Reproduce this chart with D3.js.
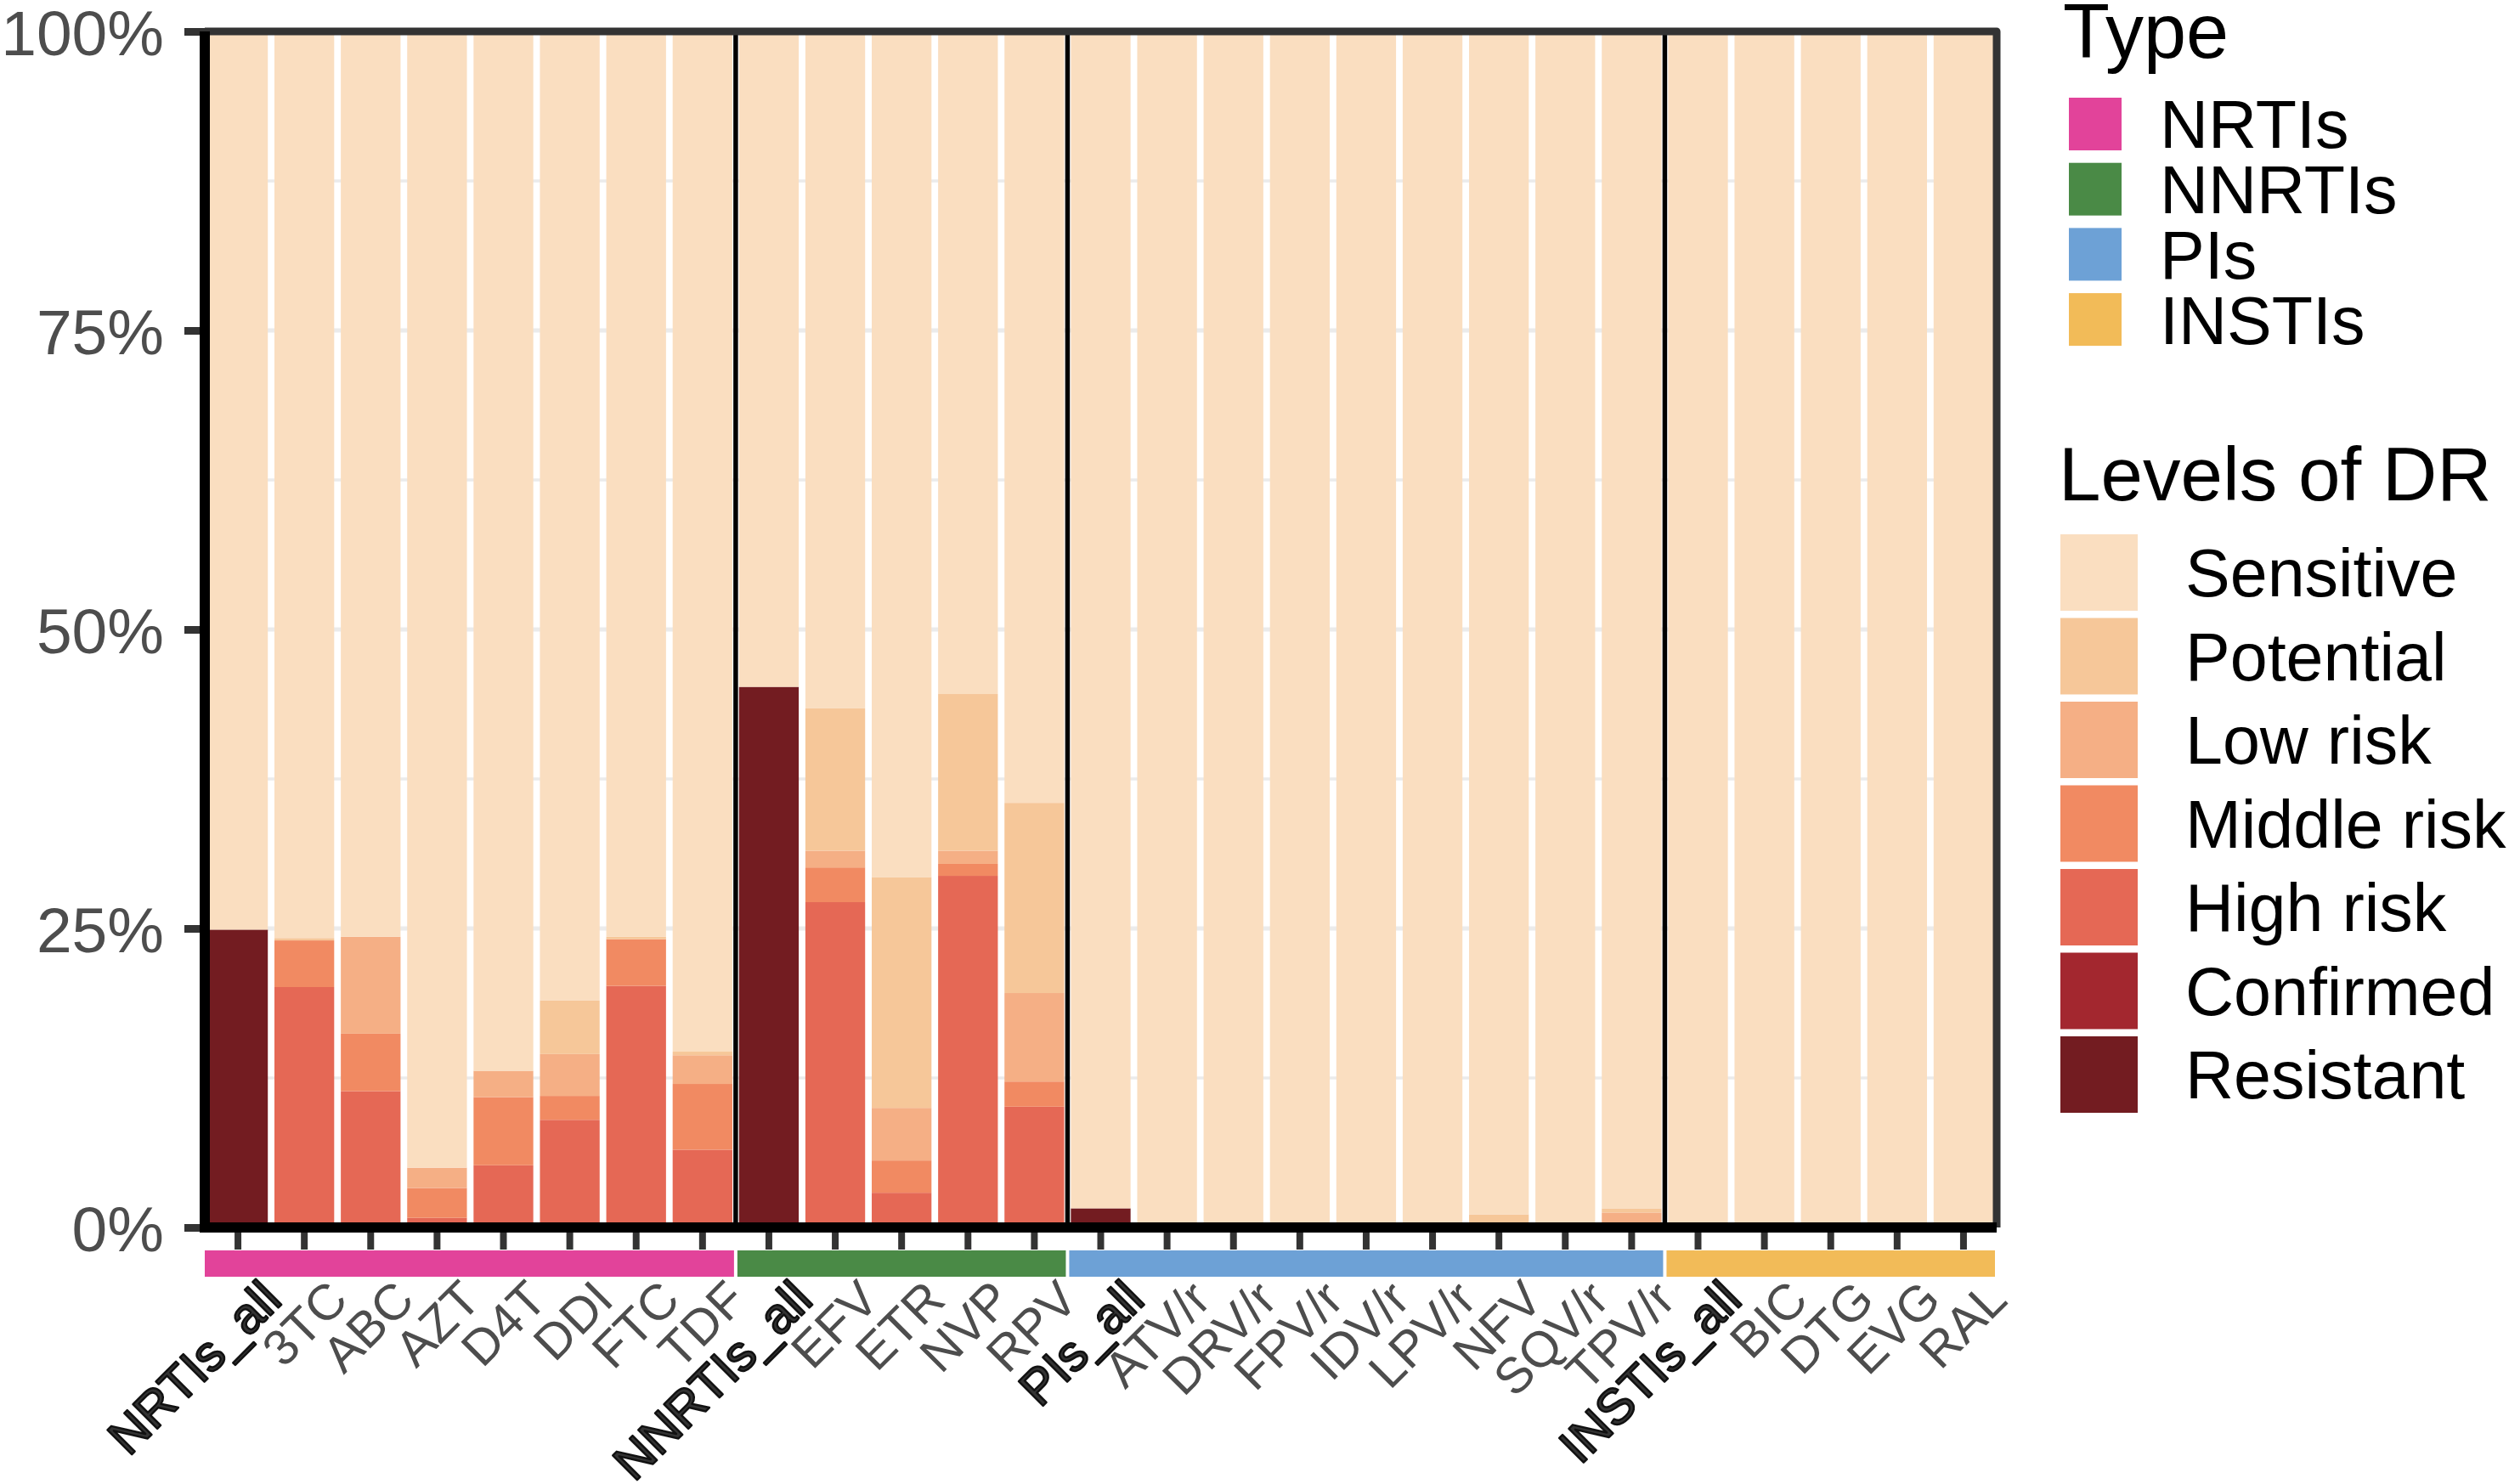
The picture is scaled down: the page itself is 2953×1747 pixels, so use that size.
<!DOCTYPE html>
<html>
<head>
<meta charset="utf-8">
<script src="https://cdn.jsdelivr.net/npm/d3@7"></script>
<style>
  body { margin: 0; background: #fff; }
  text { font-family: "Liberation Sans", Arial, sans-serif; }
</style>
</head>
<body>
<div id="chart"></div>
<script>
// drugs, in plotting order, and their drug class
var drugs = ["NRTIs_all","3TC","ABC","AZT","D4T","DDI","FTC","TDF",
             "NNRTIs_all","EFV","ETR","NVP","RPV",
             "PIs_all","ATV/r","DRV/r","FPV/r","IDV/r","LPV/r","NFV","SQV/r","TPV/r",
             "INSTIs_all","BIC","DTG","EVG","RAL"];
var drugType = ["NRTIs","NRTIs","NRTIs","NRTIs","NRTIs","NRTIs","NRTIs","NRTIs",
                "NNRTIs","NNRTIs","NNRTIs","NNRTIs","NNRTIs",
                "PIs","PIs","PIs","PIs","PIs","PIs","PIs","PIs","PIs",
                "INSTIs","INSTIs","INSTIs","INSTIs","INSTIs"];
var types = ["NRTIs","NNRTIs","PIs","INSTIs"];
var typeColors = ["#E2439A","#4A8A46","#6DA1D6","#F2BB58"];

// levels of drug resistance, legend order (top of stack first)
var levels = ["Sensitive","Potential","Low risk","Middle risk","High risk","Confirmed","Resistant"];
var levelColors = ["#FADEC0","#F6C799","#F5AF85","#F18A62","#E56855","#A3272F","#731C21"];

// percentages per drug
var resistant  = [24.9,0,0,0,0,0,0,0, 45.2,0,0,0,0, 1.6,0,0,0,0,0,0,0,0, 0,0,0,0,0];
var confirmed  = [0,0,0,0,0,0,0,0, 0,0,0,0,0, 0,0,0,0,0,0,0,0,0, 0,0,0,0,0];
var highRisk   = [0,20.1,11.4,0.8,5.2,9.0,20.2,6.5, 0,27.2,2.9,29.4,10.1, 0,0,0,0,0,0,0,0,0, 0,0,0,0,0];
var middleRisk = [0,3.9,4.8,2.5,5.7,2.0,3.9,5.5, 0,2.9,2.7,1.0,2.1, 0,0,0,0,0,0,0,0,0, 0,0,0,0,0];
var lowRisk    = [0,0,8.1,1.7,2.2,3.5,0,2.4, 0,1.4,4.4,1.1,7.4, 0,0,0,0,0,0,0,0,1.25, 0,0,0,0,0];
var potential  = [0,0.2,0,0,0,4.5,0.2,0.3, 0,11.9,19.3,13.1,15.9, 0,0,0,0.4,0,0,1.1,0,0.35, 0,0,0,0,0];
var sensitive  = [75.1,75.8,75.7,95.0,86.9,81.0,75.7,85.3, 54.8,56.6,70.7,55.4,64.5, 98.4,100,100,99.6,100,100,98.9,100,98.4, 100,100,100,100,100];

var yTicks = [0, 25, 50, 75, 100];
var yTickLabels = ["0%","25%","50%","75%","100%"];

var W = 2953, H = 1747;
var margin = {left: 241, right: 603, top: 37, bottom: 302};
var plotW = W - margin.left - margin.right,
    plotH = H - margin.top - margin.bottom;

var svg = d3.select("#chart").append("svg")
    .attr("width", W).attr("height", H)
    .style("display", "block");

var g = svg.append("g")
    .attr("transform", "translate(" + margin.left + "," + margin.top + ")");

var x = d3.scaleBand().domain(drugs).range([0, plotW])
    .paddingInner(0.1).paddingOuter(0.05);
var y = d3.scaleLinear().domain([0, 100]).range([plotH, 0]);

// build table for the stack
var table = drugs.map(function(d, i) {
    return {drug: d, type: drugType[i],
        "Resistant": resistant[i], "Confirmed": confirmed[i], "High risk": highRisk[i],
        "Middle risk": middleRisk[i], "Low risk": lowRisk[i], "Potential": potential[i],
        "Sensitive": sensitive[i]};
});
var stackKeys = levels.slice().reverse();
var series = d3.stack().keys(stackKeys)(table);
var fill = d3.scaleOrdinal().domain(levels).range(levelColors);
var typeFill = d3.scaleOrdinal().domain(types).range(typeColors);

// grid lines
var grid = d3.range(0, 100.1, 12.5);
g.selectAll(".grid").data(grid).enter().append("line")
    .attr("x1", 0).attr("x2", plotW)
    .attr("y1", function(d) { return y(d); }).attr("y2", function(d) { return y(d); })
    .attr("stroke", "#EBEBEB")
    .attr("stroke-width", function(d) { return d % 25 === 0 ? 5 : 3.5; });

// stacked bars
g.selectAll(".layer").data(series).enter().append("g")
    .attr("fill", function(d) { return fill(d.key); })
  .selectAll("rect").data(function(d) { return d; }).enter().append("rect")
    .attr("x", function(d) { return x(d.data.drug); })
    .attr("width", x.bandwidth())
    .attr("y", function(d) { return y(d[1]); })
    .attr("height", function(d) { return Math.max(0, y(d[0]) - y(d[1])); });

// group dividers
var step = x.step();
var bounds = [];
types.forEach(function(t) {
    var idx = drugType.map(function(v, i) { return v === t ? i : -1; }).filter(function(i) { return i >= 0; });
    bounds.push({type: t, x0: idx[0] * step, x1: (idx[idx.length - 1] + 1) * step});
});
g.selectAll(".divider").data(bounds.slice(1)).enter().append("line")
    .attr("x1", function(d) { return d.x0; }).attr("x2", function(d) { return d.x0; })
    .attr("y1", 0).attr("y2", plotH)
    .attr("stroke", "#000").attr("stroke-width", 5.5);

// panel border top/right
g.append("path")
    .attr("d", "M0,0H" + plotW + "V" + plotH)
    .attr("fill", "none").attr("stroke", "#333").attr("stroke-width", 9)
    .attr("stroke-linejoin", "round");

// y axis
var yAxis = g.append("g")
    .call(d3.axisLeft(y).tickValues(yTicks).tickSize(24).tickPadding(24)
        .tickFormat(function(d, i) { return yTickLabels[i]; }));
yAxis.select(".domain").remove();
yAxis.selectAll(".tick line").attr("stroke", "#333").attr("stroke-width", 9);
yAxis.selectAll(".tick text").attr("fill", "#4D4D4D").style("font-size", "75px")
    .attr("dy", "0.36em");

// x axis
var xAxis = g.append("g")
    .attr("transform", "translate(0," + plotH + ")")
    .call(d3.axisBottom(x).tickSize(26).tickFormat(""));
xAxis.select(".domain").remove();
xAxis.selectAll(".tick line").attr("stroke", "#333").attr("stroke-width", 8);

// axis lines (black)
g.append("line").attr("x1", 0).attr("x2", 0).attr("y1", 0).attr("y2", plotH + 6)
    .attr("stroke", "#000").attr("stroke-width", 12);
g.append("line").attr("x1", -6).attr("x2", plotW).attr("y1", plotH).attr("y2", plotH)
    .attr("stroke", "#000").attr("stroke-width", 12);

// type strip
g.selectAll(".strip").data(bounds).enter().append("rect")
    .attr("x", function(d, i) { return d.x0 + (i === 0 ? 0 : 2); })
    .attr("width", function(d, i) { return d.x1 - d.x0 - (i === 0 ? 2 : 4); })
    .attr("y", plotH + 27).attr("height", 31)
    .attr("fill", function(d) { return typeFill(d.type); });

// x labels ("_all" ones drawn darker with an outline)
g.selectAll(".xlab").data(drugs).enter().append("text")
    .attr("transform", function(d) {
        return "translate(" + (x(d) + x.bandwidth() / 2 + 24) + "," + (plotH + 58) + ") rotate(-45)";
    })
    .attr("text-anchor", "end")
    .attr("dy", "0.72em")
    .style("font-size", "59px")
    .attr("fill", function(d) { return /_all$/.test(d) ? "#333" : "#4D4D4D"; })
    .attr("stroke", function(d) { return /_all$/.test(d) ? "#111" : "none"; })
    .attr("stroke-width", 2.5)
    .attr("stroke-linejoin", "round")
    .text(function(d) { return d; });

// legend: Type
var lt = svg.append("g");
lt.append("text").attr("x", 2428).attr("y", 68).style("font-size", "90px")
    .attr("fill", "#000").text("Type");
var typeItems = lt.selectAll(".ti").data(types).enter().append("g")
    .attr("transform", function(d, i) { return "translate(2435," + (115 + i * 76.7) + ")"; });
typeItems.append("rect").attr("width", 62).attr("height", 62)
    .attr("fill", function(d) { return typeFill(d); });
typeItems.append("text").attr("x", 107).attr("y", 31).attr("dy", "0.36em")
    .style("font-size", "79px").attr("fill", "#000").text(function(d) { return d; });

// legend: Levels of DR
var ll = svg.append("g");
ll.append("text").attr("x", 2423).attr("y", 589).style("font-size", "89px")
    .attr("fill", "#000").text("Levels of DR");
var lvItems = ll.selectAll(".li").data(levels).enter().append("g")
    .attr("transform", function(d, i) { return "translate(2425," + (629 + i * 98.5) + ")"; });
lvItems.append("rect").attr("width", 91).attr("height", 90)
    .attr("fill", function(d) { return fill(d); });
lvItems.append("text").attr("x", 147).attr("y", 45).attr("dy", "0.36em")
    .style("font-size", "79px").attr("fill", "#000").text(function(d) { return d; });
</script>
</body>
</html>
